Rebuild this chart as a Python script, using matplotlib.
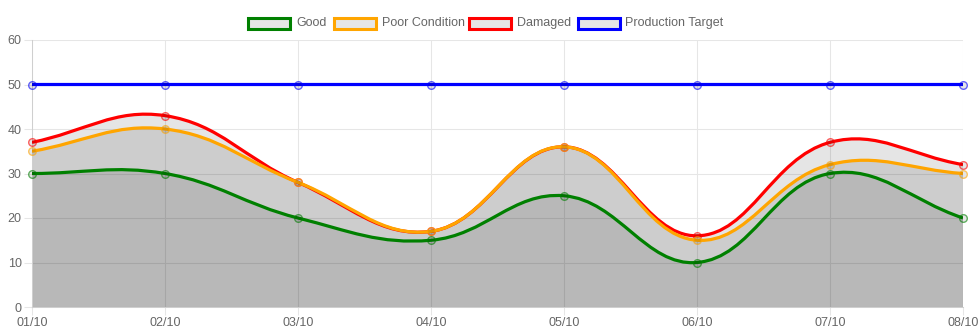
import numpy as np
import matplotlib
matplotlib.use("Agg")
import matplotlib.pyplot as plt
from matplotlib.path import Path
from matplotlib.patches import PathPatch, Rectangle

plt.rcParams['font.family'] = ['Liberation Sans', 'DejaVu Sans']

categories = ["01/10", "02/10", "03/10", "04/10", "05/10", "06/10", "07/10", "08/10"]
good = [30, 30, 20, 15, 25, 10, 30, 20]
poor = [35, 40, 28, 17, 36, 15, 32, 30]
damaged = [37, 43, 28, 17, 36, 16, 37, 32]
target = [50, 50, 50, 50, 50, 50, 50, 50]

series = [
    ("Good", good, "#008000", True),
    ("Poor Condition", poor, "#FFA500", True),
    ("Damaged", damaged, "#FF0000", True),
    ("Production Target", target, "#0000FF", False),
]

W, H = 979, 336
fig = plt.figure(figsize=(W / 100, H / 100), dpi=100)
L, R, T, B = 32, 963, 40, 307
ax = fig.add_axes([L / W, (H - B) / H, (R - L) / W, (B - T) / H])
ax.set_xlim(0, len(categories) - 1)
ax.set_ylim(0, 60)

sx = (R - L) / (len(categories) - 1)
sy = (B - T) / 60.0


def bezier_path(ys, tension=0.4, close=False):
    xs = np.arange(len(ys), dtype=float)
    ys = np.asarray(ys, dtype=float)
    px, py = xs * sx, ys * sy
    n = len(xs)
    cprev, cnext = [], []
    for i in range(n):
        i0 = max(i - 1, 0)
        i2 = min(i + 1, n - 1)
        d01 = np.hypot(px[i] - px[i0], py[i] - py[i0])
        d12 = np.hypot(px[i2] - px[i], py[i2] - py[i])
        tot = d01 + d12
        s01 = d01 / tot if tot else 0
        s12 = d12 / tot if tot else 0
        fa, fb = tension * s01, tension * s12
        dx, dy = px[i2] - px[i0], py[i2] - py[i0]
        cprev.append(((px[i] - fa * dx) / sx, (py[i] - fa * dy) / sy))
        cnext.append(((px[i] + fb * dx) / sx, (py[i] + fb * dy) / sy))
    verts = [(xs[0], ys[0])]
    codes = [Path.MOVETO]
    for i in range(n - 1):
        verts += [cnext[i], cprev[i + 1], (xs[i + 1], ys[i + 1])]
        codes += [Path.CURVE4] * 3
    if close:
        verts += [(xs[-1], 0), (xs[0], 0), (xs[0], ys[0])]
        codes += [Path.LINETO, Path.LINETO, Path.CLOSEPOLY]
    return Path(verts, codes)


grid_c = "#e6e6e6"
ax.set_yticks(range(0, 61, 10))
ax.set_xticks(range(len(categories)))
ax.set_xticklabels(categories)
ax.grid(True, color=grid_c, linewidth=0.75, alpha=1)
ax.set_axisbelow(True)
for s in ["top", "right"]:
    ax.spines[s].set_visible(False)
for s in ["left", "bottom"]:
    ax.spines[s].set_color("#cfcfcf")
    ax.spines[s].set_linewidth(0.75)
ax.tick_params(axis="both", length=5.5, width=0.75, color=grid_c,
               labelcolor="#666666", labelsize=9, pad=2)

n = len(series)
for idx, (name, vals, col, fill) in enumerate(series):
    z = 10 + (n - idx) * 2
    if fill:
        ax.add_patch(PathPatch(bezier_path(vals, close=True), facecolor=(0, 0, 0, 0.1),
                               edgecolor="none", zorder=2))
    ax.add_patch(PathPatch(bezier_path(vals), facecolor="none", edgecolor=col,
                           linewidth=2.3, zorder=z, capstyle="butt", joinstyle="round"))
    ax.plot(range(len(vals)), vals, linestyle="none", marker="o", markersize=5.5,
            markerfacecolor=(0, 0, 0, 0.1), markeredgecolor=matplotlib.colors.to_rgba(col, 0.6),
            markeredgewidth=1.0, zorder=z + 1, clip_on=False)

# legend
box_x = [248, 334, 469, 578]
txt_x = [296, 382, 517, 625]
for (name, vals, col, fill), bx, tx in zip(series, box_x, txt_x):
    fig.add_artist(Rectangle((bx / W, 1 - 29 / H), 42 / W, 11 / H, transform=fig.transFigure,
                             facecolor="#e6e6e6", edgecolor=col, linewidth=2.2))
    fig.text(tx / W, 1 - 23 / H, name, color="#666666", fontsize=9, va="center", ha="left")

fig.savefig("out.png", dpi=100)
